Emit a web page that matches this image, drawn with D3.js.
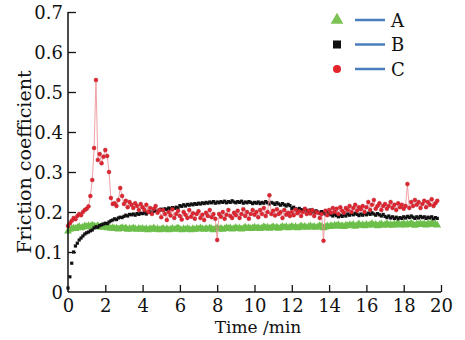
<!DOCTYPE html>
<html>
<head>
<meta charset="utf-8">
<script src="https://cdn.jsdelivr.net/npm/d3@7"></script>
<style>
  html, body { margin: 0; padding: 0; background: #fff; }
  svg { display: block; }
  text { font-family: "DejaVu Serif", "Liberation Serif", serif; fill: #111; }
</style>
</head>
<body>
<div id="chart"></div>
<script>
// ---- data (friction coefficient sampled every 0.1 min, 0 .. 19.8 min) ----
const sampleStep = 0.1;
const xTicks = [0, 2, 4, 6, 8, 10, 12, 14, 16, 18, 20];
const yTicks = [0, 0.1, 0.2, 0.3, 0.4, 0.5, 0.6, 0.7];
const seriesNames = ["A", "B", "C"];

const seriesA = [
  0.152,0.156,0.158,0.160,0.158,0.161,0.163,0.160,0.162,0.165,
  0.163,0.166,0.164,0.167,0.165,0.163,0.166,0.162,0.164,0.161,
  0.163,0.160,0.162,0.159,0.161,0.158,0.160,0.157,0.159,0.161,
  0.158,0.160,0.156,0.159,0.157,0.160,0.158,0.156,0.159,0.157,
  0.159,0.156,0.158,0.155,0.158,0.157,0.160,0.156,0.158,0.155,
  0.157,0.159,0.156,0.158,0.155,0.157,0.159,0.156,0.158,0.160,
  0.157,0.155,0.158,0.156,0.159,0.157,0.155,0.158,0.156,0.159,
  0.157,0.160,0.158,0.156,0.159,0.157,0.160,0.158,0.155,0.158,
  0.160,0.157,0.159,0.156,0.158,0.161,0.158,0.160,0.157,0.159,
  0.161,0.158,0.160,0.157,0.159,0.162,0.159,0.161,0.158,0.160,
  0.162,0.159,0.161,0.158,0.160,0.163,0.160,0.162,0.159,0.161,
  0.163,0.160,0.162,0.159,0.161,0.164,0.161,0.163,0.160,0.162,
  0.164,0.161,0.163,0.160,0.162,0.165,0.162,0.164,0.161,0.163,
  0.165,0.162,0.164,0.161,0.163,0.166,0.163,0.160,0.162,0.165,
  0.163,0.166,0.164,0.167,0.165,0.168,0.164,0.166,0.163,0.167,
  0.165,0.168,0.166,0.169,0.164,0.167,0.170,0.166,0.168,0.165,
  0.169,0.166,0.168,0.171,0.167,0.169,0.165,0.168,0.170,0.166,
  0.168,0.171,0.167,0.169,0.166,0.170,0.168,0.172,0.167,0.169,
  0.171,0.167,0.170,0.168,0.172,0.169,0.166,0.170,0.168,0.171,
  0.168,0.170,0.167,0.171,0.169,0.172,0.168,0.170,0.167
];

const seriesB = [
  0.010,0.038,0.072,0.100,0.115,0.122,0.130,0.135,0.140,0.145,
  0.148,0.150,0.153,0.155,0.160,0.163,0.162,0.166,0.168,0.170,
  0.172,0.171,0.175,0.178,0.180,0.183,0.181,0.185,0.187,0.186,
  0.189,0.192,0.190,0.194,0.193,0.195,0.192,0.196,0.194,0.197,
  0.196,0.198,0.195,0.199,0.201,0.198,0.202,0.204,0.201,0.205,
  0.207,0.204,0.208,0.206,0.210,0.208,0.211,0.209,0.212,0.210,
  0.216,0.214,0.218,0.215,0.219,0.217,0.220,0.218,0.221,0.219,
  0.222,0.220,0.223,0.221,0.224,0.222,0.225,0.223,0.226,0.222,
  0.225,0.223,0.226,0.224,0.227,0.223,0.226,0.224,0.228,0.225,
  0.223,0.226,0.224,0.227,0.222,0.225,0.223,0.226,0.224,0.221,
  0.224,0.222,0.225,0.221,0.224,0.222,0.226,0.223,0.220,0.224,
  0.222,0.219,0.223,0.220,0.217,0.221,0.218,0.215,0.219,0.216,
  0.209,0.212,0.208,0.205,0.209,0.206,0.203,0.207,0.204,0.201,
  0.205,0.202,0.199,0.203,0.200,0.197,0.201,0.198,0.195,0.199,
  0.196,0.193,0.190,0.194,0.191,0.188,0.192,0.189,0.193,0.190,
  0.195,0.192,0.196,0.193,0.197,0.194,0.191,0.195,0.192,0.196,
  0.193,0.197,0.194,0.198,0.195,0.192,0.196,0.193,0.190,0.194,
  0.189,0.186,0.190,0.185,0.188,0.184,0.187,0.183,0.186,0.184,
  0.188,0.185,0.189,0.186,0.190,0.187,0.184,0.188,0.185,0.189,
  0.186,0.188,0.184,0.187,0.185,0.188,0.183,0.186,0.184
];

const seriesC = [
  0.165,0.172,0.178,0.185,0.182,0.190,0.195,0.192,0.200,0.205,
  0.208,0.214,0.240,0.280,0.360,0.530,0.330,0.345,0.322,0.338,
  0.355,0.340,0.300,0.235,0.220,0.222,0.215,0.230,0.260,0.240,
  0.220,0.228,0.212,0.225,0.218,0.210,0.222,0.215,0.205,0.220,
  0.212,0.205,0.218,0.200,0.210,0.195,0.208,0.215,0.198,0.205,
  0.187,0.205,0.195,0.180,0.200,0.191,0.207,0.185,0.195,0.203,
  0.190,0.181,0.200,0.193,0.185,0.205,0.188,0.197,0.183,0.195,
  0.202,0.185,0.193,0.180,0.198,0.190,0.205,0.187,0.195,0.183,
  0.130,0.195,0.188,0.200,0.183,0.193,0.205,0.190,0.185,0.198,
  0.192,0.203,0.185,0.195,0.207,0.190,0.200,0.183,0.195,0.205,
  0.193,0.200,0.187,0.205,0.195,0.210,0.190,0.200,0.242,0.195,
  0.203,0.191,0.207,0.195,0.200,0.185,0.205,0.193,0.198,0.190,
  0.200,0.192,0.206,0.197,0.202,0.190,0.200,0.208,0.195,0.203,
  0.196,0.205,0.190,0.200,0.198,0.185,0.195,0.128,0.203,0.192,
  0.205,0.198,0.210,0.200,0.208,0.195,0.212,0.203,0.198,0.210,
  0.205,0.215,0.200,0.210,0.218,0.203,0.212,0.207,0.215,0.200,
  0.212,0.225,0.205,0.218,0.230,0.208,0.215,0.222,0.205,0.215,
  0.220,0.208,0.215,0.225,0.210,0.218,0.205,0.222,0.212,0.218,
  0.208,0.215,0.270,0.210,0.225,0.215,0.230,0.218,0.225,0.210,
  0.220,0.228,0.212,0.225,0.218,0.232,0.215,0.222,0.228
];

// ---- layout ----
const W = 465, H = 340;
const svg = d3.select("#chart").append("svg").attr("width", W).attr("height", H);

const x = d3.scaleLinear().domain([0, 20]).range([68, 441]);
const y = d3.scaleLinear().domain([0, 0.7]).range([292, 12]);

const toPoints = arr => arr.map((v, i) => ({ t: i * sampleStep, v }));
const ptsA = toPoints(seriesA), ptsB = toPoints(seriesB), ptsC = toPoints(seriesC);

const colA = "#6cbf4a", colB = "#111111", colC = "#e3242b", colLine = "#4a7dbd";

// series A : green triangles
const triangle = d3.symbol().type(d3.symbolTriangle).size(26);
svg.append("g").selectAll("path").data(ptsA).join("path")
  .attr("d", triangle)
  .attr("transform", d => `translate(${x(d.t)},${y(d.v)})`)
  .attr("fill", colA);

// series B : black squares
svg.append("g").selectAll("rect").data(ptsB).join("rect")
  .attr("x", d => x(d.t) - 1.6).attr("y", d => y(d.v) - 1.6)
  .attr("width", 3.2).attr("height", 3.2)
  .attr("fill", colB);

// series C : thin connecting line + red dots
const line = d3.line().x(d => x(d.t)).y(d => y(d.v));
svg.append("path").datum(ptsC)
  .attr("d", line).attr("fill", "none")
  .attr("stroke", "#e98a8f").attr("stroke-width", 0.8);
svg.append("g").selectAll("circle").data(ptsC).join("circle")
  .attr("cx", d => x(d.t)).attr("cy", d => y(d.v)).attr("r", 2)
  .attr("fill", colC).attr("stroke", "#a3243a").attr("stroke-width", 0.4);

// ---- axes ----
const xAxis = d3.axisBottom(x).tickValues(xTicks).tickSize(-7).tickPadding(7);
const gx = svg.append("g").attr("transform", "translate(0,292)").call(xAxis);
const yAxis = d3.axisLeft(y).tickValues(yTicks).tickSize(-8).tickPadding(5)
  .tickFormat(d => d === 0 ? "0" : d3.format(".1f")(d));
const gy = svg.append("g").attr("transform", "translate(68,0)").call(yAxis);

[gx, gy].forEach(g => {
  g.select(".domain").attr("stroke", "#111").attr("stroke-width", 1.5);
  g.selectAll(".tick line").attr("stroke", "#111").attr("stroke-width", 1.3);
  g.selectAll(".tick text").attr("font-size", 18).attr("fill", "#111");
});
gx.select(".domain").attr("d", "M68,0H441");
gy.select(".domain").attr("d", "M0,292V12");
gx.selectAll(".tick").filter(d => d === 0).select("line").remove();
gy.selectAll(".tick").filter(d => d === 0).select("line").remove();
gy.selectAll(".tick text").attr("dy", "0.36em");

// axis titles
svg.append("text").attr("x", 258).attr("y", 333).attr("text-anchor", "middle")
  .attr("font-size", 17).text("Time /min");
svg.append("text").attr("transform", "translate(31,162) rotate(-90)")
  .attr("text-anchor", "middle").attr("font-size", 19).text("Friction coefficient");

// ---- legend ----
const legendY = [20, 44.5, 69];
const lg = svg.append("g");
seriesNames.forEach((name, i) => {
  const cy = legendY[i];
  if (i === 0) {
    lg.append("path").attr("d", d3.symbol().type(d3.symbolTriangle).size(70)())
      .attr("transform", `translate(337,${cy})`).attr("fill", "#7cc255");
  } else if (i === 1) {
    lg.append("rect").attr("x", 333).attr("y", cy - 4).attr("width", 8).attr("height", 8).attr("fill", colB);
  } else {
    lg.append("circle").attr("cx", 337).attr("cy", cy).attr("r", 4).attr("fill", colC);
  }
  lg.append("line").attr("x1", 355).attr("x2", 385).attr("y1", cy).attr("y2", cy)
    .attr("stroke", colLine).attr("stroke-width", 2.5);
  lg.append("text").attr("x", 391).attr("y", cy + 6.5).attr("font-size", 18).text(name);
});
</script>
</body>
</html>
